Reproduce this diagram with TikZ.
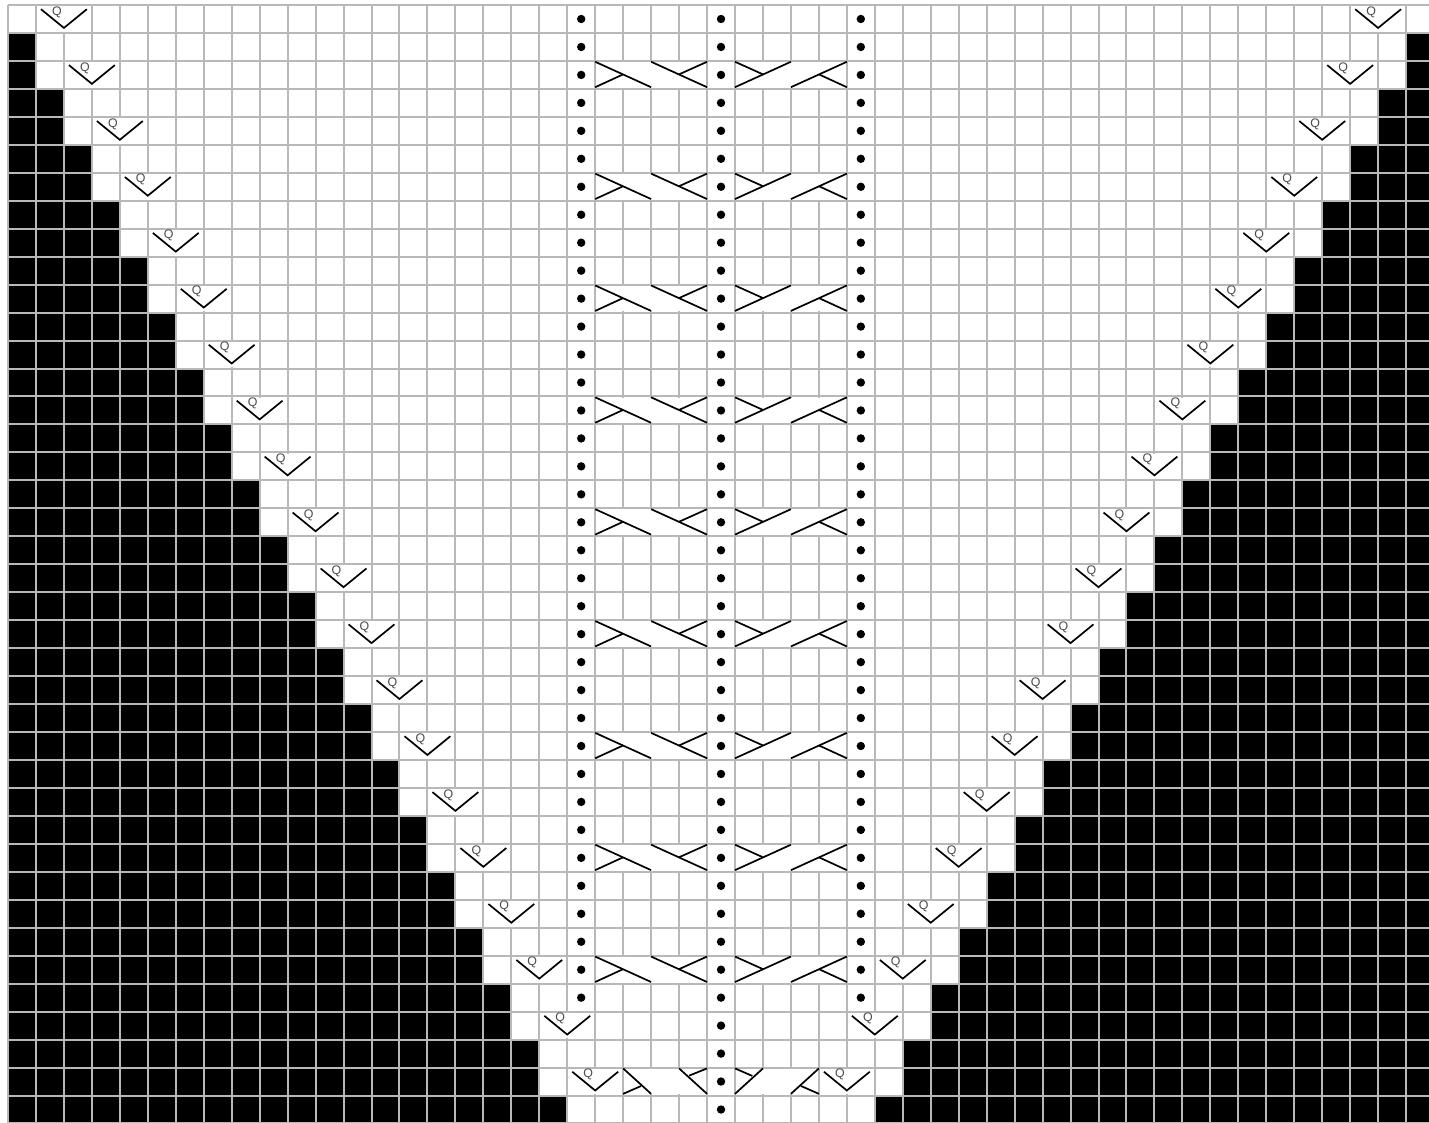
\documentclass[tikz,border=0pt]{standalone}
\usepackage{fontspec}
\setmainfont{Liberation Sans}
\usepackage{xcolor}
\usepackage{tikz}
\definecolor{gridgray}{HTML}{B8B8B8}

\begin{document}
\begin{tikzpicture}[
  x=13.98pt, y=13.98pt,
  gridline/.style={draw=gridgray, line width=1pt},
  blackcell/.style={fill=black},
  mergecut/.style={draw=white, line width=1.6pt},
  stitch/.style={draw=black, line width=0.85pt, line join=miter},
  purl/.style={circle, fill=black, inner sep=0pt, minimum size=4.2pt},
  loopmark/.style={inner sep=0pt, font=\fontsize{6.2}{6.2}\selectfont, text=black!70}
]
\fill[white] (-0.286,0.179) rectangle (50.82,-39.95);
\useasboundingbox (-0.286,0.179) rectangle (50.82,-39.95);
\clip (-0.286,0.179) rectangle (50.82,-39.95);

% black edges
\foreach \r [evaluate=\r as \n using int((\r+1)/2), evaluate=\r as \m using int(51-int((\r+1)/2))] in {1,...,39} {
  \fill[blackcell] (0,-\r) rectangle (\n,-\r-1);
  \fill[blackcell] (\m,-\r) rectangle (51,-\r-1);
}

% grid
\foreach \c in {0,...,51} \draw[gridline] (\c,0) -- (\c,-40);
\foreach \r in {0,...,40} \draw[gridline] (0,-\r) -- (51,-\r);

% decrease cells, two stitches wide
\foreach \r [evaluate=\r as \a using int(\r/2+2), evaluate=\r as \b using int(49-\r/2)] in {0,2,...,38} {
  \draw[mergecut] (\a,-\r-.04) -- (\a,-\r-.96);
  \draw[mergecut] (\b,-\r-.04) -- (\b,-\r-.96);
  \foreach \c/\side in {\a/l,\b/r} {
    \draw[stitch] (\c-.82,-\r-.15) -- (\c,-\r-.82) -- (\c+.82,-\r-.15);
    \node[loopmark] (q\side\r) at (\c-.25,-\r-.25) {Q};
  }
}

% cable rows
\foreach \r in {2,6,...,34} {
  \foreach \c in {22,23,24,27,28,29} \draw[mergecut] (\c,-\r-.04) -- (\c,-\r-.96);
  \draw[stitch] (21,-\r-.03) -- (23,-\r-.94);
  \draw[stitch] (21,-\r-.94) -- (22,-\r-.48);
  \draw[stitch] (23,-\r-.03) -- (25,-\r-.94);
  \draw[stitch] (25,-\r-.03) -- (24,-\r-.48);
  \draw[stitch] (26,-\r-.94) -- (28,-\r-.03);
  \draw[stitch] (26,-\r-.03) -- (27,-\r-.48);
  \draw[stitch] (28,-\r-.94) -- (30,-\r-.03);
  \draw[stitch] (30,-\r-.94) -- (29,-\r-.48);
}

% last cable row
\foreach \c in {23,24,27,28} \draw[mergecut] (\c,-38.04) -- (\c,-38.96);
\draw[stitch] (22,-38.03) -- (23,-38.94);
\draw[stitch] (22,-38.94) -- (22.64,-38.66);
\draw[stitch] (24,-38.03) -- (25,-38.94);
\draw[stitch] (25,-38.03) -- (24.36,-38.29);
\draw[stitch] (26,-38.94) -- (27,-38.03);
\draw[stitch] (26,-38.03) -- (26.62,-38.3);
\draw[stitch] (28,-38.94) -- (29,-38.03);
\draw[stitch] (29,-38.94) -- (28.36,-38.66);

% purl columns
\foreach \c in {20,25,30}
  \foreach \r in {0,...,35}
    \node[purl] (p\c-\r) at (\c+.5,-\r-.5) {};
\foreach \r in {36,...,39}
  \node[purl] (p25-\r) at (25.5,-\r-.5) {};
\end{tikzpicture}
\end{document}
